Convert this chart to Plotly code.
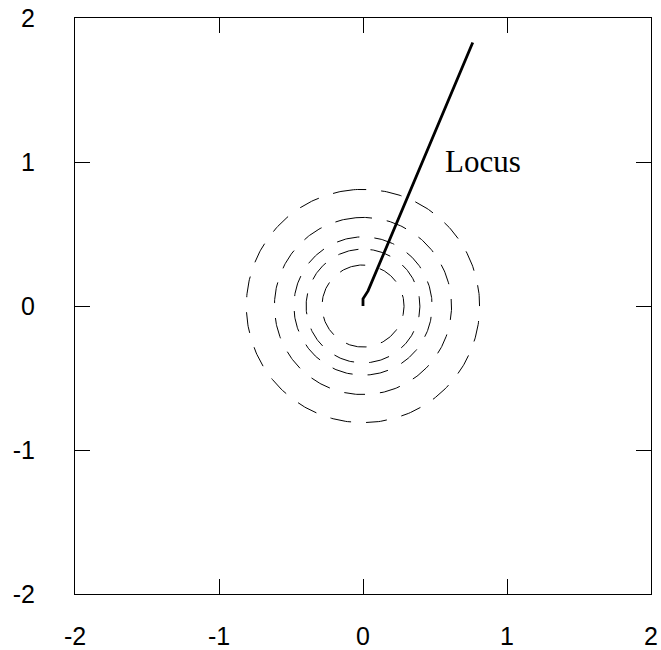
import numpy as np
import plotly.graph_objects as go

# Locus path (starts at the origin)
locus_x = [0.0, 0.0, 0.035, 0.762]
locus_y = [0.0, 0.05, 0.105, 1.83]

# Radii of the dashed reference circles
circle_radii = [0.81, 0.615, 0.48, 0.395, 0.285]

# Axis ticks
tick_vals = [-2, -1, 0, 1, 2]
tick_text = ["-2", "-1", "0", "1", "2"]

fig = go.Figure()

theta = np.linspace(np.pi / 2 + 0.08, np.pi / 2 + 0.08 + 2 * np.pi, 400)
for r in circle_radii:
    fig.add_trace(go.Scatter(
        x=r * np.cos(theta), y=r * np.sin(theta),
        mode="lines",
        line=dict(color="black", width=1, dash="21px,15px"),
        hoverinfo="skip", showlegend=False,
    ))

fig.add_trace(go.Scatter(
    x=locus_x, y=locus_y, mode="lines",
    line=dict(color="black", width=2.8),
    showlegend=False,
))

fig.add_annotation(
    x=0.558, y=1.005, xref="x", yref="y",
    text="Locus", showarrow=False,
    xanchor="left", yanchor="middle",
    font=dict(family="Liberation Serif, Times New Roman, serif", size=31, color="black"),
)

axis_common = dict(
    range=[-2, 2], automargin=False,
    tickmode="array", tickvals=tick_vals, ticktext=tick_text,
    ticks="inside", ticklen=15, tickwidth=1, tickcolor="black",
    showline=True, linecolor="black", linewidth=1, mirror="ticks",
    showgrid=False, zeroline=False,
    tickfont=dict(family="Liberation Sans, Arial, sans-serif", size=25, color="black"),
)

fig.update_layout(
    width=661, height=650,
    margin=dict(l=75, r=10, t=18, b=56),
    paper_bgcolor="white", plot_bgcolor="white",
    xaxis=dict(**axis_common, ticklabelstandoff=20),
    yaxis=dict(**axis_common, ticklabelstandoff=34),
)

fig.write_html("out.html")
